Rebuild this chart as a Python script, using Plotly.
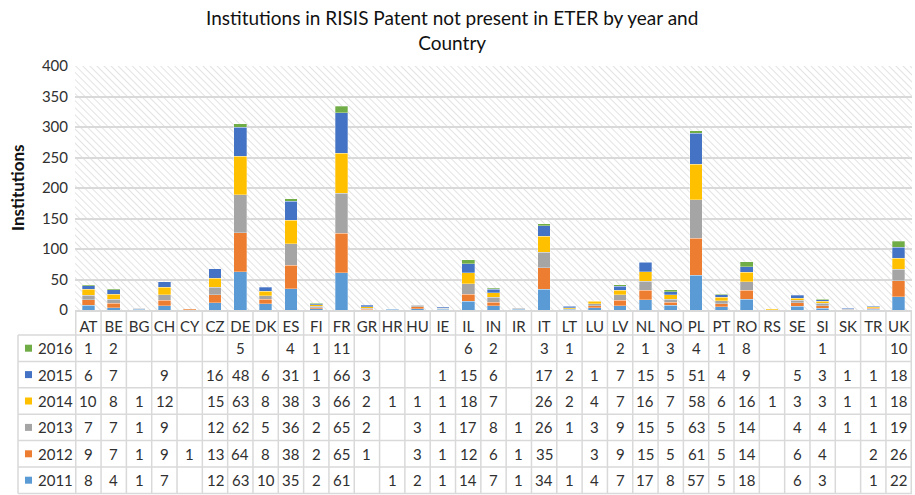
import base64

import plotly.graph_objects as go

countries = ["AT", "BE", "BG", "CH", "CY", "CZ", "DE", "DK", "ES", "FI", "FR",
             "GR", "HR", "HU", "IE", "IL", "IN", "IR", "IT", "LT", "LU", "LV",
             "NL", "NO", "PL", "PT", "RO", "RS", "SE", "SI", "SK", "TR", "UK"]

y2011 = [8, 4, 1, 7, None, 12, 63, 10, 35, 2, 61, None, 1, 2, 1, 14, 7, 1, 34, 1, 4, 7,
         17, 8, 57, 5, 18, None, 6, 3, None, 1, 22]
y2012 = [9, 7, 1, 9, 1, 13, 64, 8, 38, 2, 65, 1, None, 3, 1, 12, 6, 1, 35, None, 3, 9,
         15, 5, 61, 5, 14, None, 6, 4, None, 2, 26]
y2013 = [7, 7, 1, 9, None, 12, 62, 5, 36, 2, 65, 2, None, 3, 1, 17, 8, 1, 26, 1, 3, 9,
         15, 5, 63, 5, 14, None, 4, 4, 1, 1, 19]
y2014 = [10, 8, 1, 12, None, 15, 63, 8, 38, 3, 66, 2, 1, 1, 1, 18, 7, None, 26, 2, 4, 7,
         16, 7, 58, 6, 16, 1, 3, 3, 1, 1, 18]
y2015 = [6, 7, None, 9, None, 16, 48, 6, 31, 1, 66, 3, None, None, 1, 15, 6, None, 17, 2, 1, 7,
         15, 5, 51, 4, 9, None, 5, 3, 1, 1, 18]
y2016 = [1, 2, None, None, None, None, 5, None, 4, 1, 11, None, None, None, None, 6, 2, None, 3, 1, None, 2,
         1, 3, 4, 1, 8, None, None, 1, None, None, 10]

years = ["2011", "2012", "2013", "2014", "2015", "2016"]
series = [y2011, y2012, y2013, y2014, y2015, y2016]
colors = ["#5B9BD5", "#ED7D31", "#A5A5A5", "#FFC000", "#4472C4", "#70AD47"]

FONT = "Lato, Calibri, 'Open Sans', sans-serif"
TXT = "#303030"
GRID = "#d9d9d9"

# pixel layout of the page
W, H = 915, 495
L, R, T, B = 75, 3, 66, 185
PW, PH = W - L - R, H - T - B
ROW = 26.4
HEAD = 25  # header row (country labels) height under the axis
LEG_LEFT = 18


def py(px_below_axis):
    # pixels below the axis -> paper y
    return -px_below_axis / PH


def px(x_pixels):
    return (x_pixels - L) / PW


fig = go.Figure()
for name, vals, col in zip(years, series, colors):
    fig.add_trace(go.Bar(
        x=countries, y=vals, name=name,
        marker=dict(color=col, line=dict(color="white", width=0.3)),
    ))

# hatched plot background
svg = (
    f'<svg xmlns="http://www.w3.org/2000/svg" width="{PW}" height="{PH}">'
    '<defs><pattern id="h" width="5" height="5" patternUnits="userSpaceOnUse" '
    'patternTransform="rotate(-45)">'
    '<line x1="0" y1="0" x2="0" y2="5" stroke="#d0d0d0" stroke-width="1.2"/>'
    '</pattern></defs>'
    '<rect width="100%" height="100%" fill="white"/>'
    '<rect width="100%" height="100%" fill="url(#h)"/></svg>'
)
src = "data:image/svg+xml;base64," + base64.b64encode(svg.encode()).decode()

shapes = []
annotations = []
table_bottom = HEAD + ROW * 6

# vertical table lines at category boundaries
for i in range(len(countries) + 1):
    shapes.append(dict(type="line", xref="x", yref="paper",
                       x0=i - 0.5, x1=i - 0.5, y0=0, y1=py(table_bottom),
                       line=dict(color=GRID, width=1.5)))
# legend column left edge
shapes.append(dict(type="line", xref="paper", yref="paper",
                   x0=px(LEG_LEFT), x1=px(LEG_LEFT), y0=py(HEAD), y1=py(table_bottom),
                   line=dict(color=GRID, width=1.5)))
# horizontal table lines
for r in range(7):
    yy = py(HEAD + r * ROW)
    shapes.append(dict(type="line", xref="paper", yref="paper",
                       x0=px(LEG_LEFT), x1=1, y0=yy, y1=yy,
                       line=dict(color=GRID, width=1.5)))

# table rows, newest year on top
for r, (name, vals, col) in enumerate(zip(years[::-1], series[::-1], colors[::-1])):
    mid = HEAD + r * ROW + ROW / 2
    yc = py(mid)
    # legend key square
    shapes.append(dict(type="rect", xref="paper", yref="paper",
                       x0=px(25), x1=px(32), y0=py(mid - 3.5), y1=py(mid + 3.5),
                       fillcolor=col, line=dict(width=0)))
    annotations.append(dict(
        xref="paper", yref="paper", x=px(36), y=yc, text=name,
        showarrow=False, font=dict(family=FONT, size=15, color=TXT),
        xanchor="left", yanchor="middle",
    ))
    for c, v in zip(countries, vals):
        if v is None:
            continue
        annotations.append(dict(
            xref="x", yref="paper", x=c, y=yc, text=str(v),
            showarrow=False, font=dict(family=FONT, size=15, color=TXT),
            xanchor="center", yanchor="middle",
        ))

# y axis title
annotations.append(dict(
    xref="paper", yref="paper", x=px(17), y=0.5, text="<b>Institutions</b>",
    textangle=-90, showarrow=False, font=dict(family=FONT, size=17, color="#111"),
    xanchor="center", yanchor="middle",
))

# chart title
annotations.append(dict(
    xref="paper", yref="paper", x=px(452), y=(PH + T - 30) / PH,
    text="Institutions in RISIS Patent not present in ETER by year and<br>Country",
    showarrow=False, font=dict(family=FONT, size=19, color="#111"),
    xanchor="center", yanchor="middle",
))

fig.update_layout(
    width=W, height=H,
    margin=dict(l=L, r=R, t=T, b=B),
    barmode="stack", bargap=0.5,
    showlegend=False,
    paper_bgcolor="white", plot_bgcolor="rgba(0,0,0,0)",
    font=dict(family=FONT, size=15, color=TXT),
    images=[dict(source=src, xref="paper", yref="paper", x=0, y=1, sizex=1, sizey=1,
                 xanchor="left", yanchor="top", sizing="stretch", layer="below")],
    shapes=shapes,
    annotations=annotations,
)
fig.update_xaxes(showgrid=False, showline=True, linecolor=GRID, linewidth=1.5,
                 ticks="", tickfont=dict(size=15, color=TXT), ticklabelstandoff=2)
fig.update_yaxes(range=[0, 400], dtick=50, showgrid=True, gridcolor=GRID, gridwidth=2,
                 zeroline=False, ticks="", tickfont=dict(size=15, color=TXT),
                 ticklabelstandoff=6)

fig.write_html("out.html", config={"displayModeBar": False},
               post_script="document.body.style.margin='0';")
